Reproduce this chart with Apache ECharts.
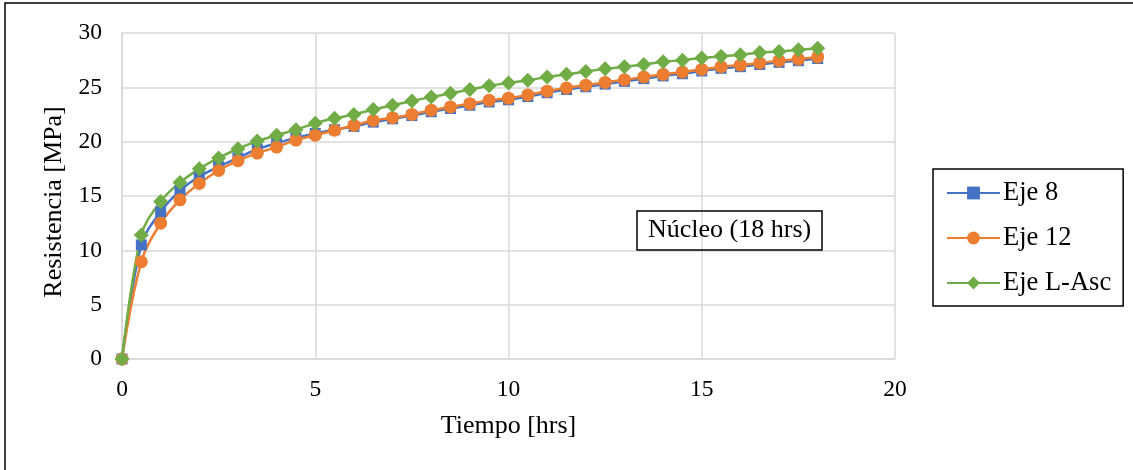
<!DOCTYPE html>
<html>
<head>
<meta charset="utf-8">
<script src="https://cdn.jsdelivr.net/npm/echarts@6/dist/echarts.min.js"></script>
<style>
html,body{margin:0;padding:0;background:#fff;}
#c{width:1133px;height:470px;}
</style>
</head>
<body>
<div id="c"></div>
<script>
var tiempo = [0,0.5,1,1.5,2,2.5,3,3.5,4,4.5,5,5.5,6,6.5,7,7.5,8,8.5,9,9.5,10,10.5,11,11.5,12,12.5,13,13.5,14,14.5,15,15.5,16,16.5,17,17.5,18];
var eje8 = [0,10.5,13.55,15.5,16.8,17.7,18.5,19.3,19.85,20.35,20.75,21.1,21.4,21.8,22.1,22.4,22.75,23.05,23.35,23.65,23.85,24.15,24.5,24.8,25.05,25.3,25.55,25.8,26.05,26.25,26.5,26.75,26.9,27.1,27.3,27.45,27.65];
var eje12 = [0,8.95,12.5,14.65,16.15,17.35,18.25,18.95,19.5,20.15,20.6,21.05,21.5,21.95,22.2,22.5,22.9,23.2,23.5,23.8,24.0,24.3,24.65,24.95,25.2,25.45,25.7,25.95,26.2,26.4,26.65,26.9,27.05,27.25,27.45,27.6,27.8];
var ejeLAsc = [0,11.4,14.5,16.25,17.5,18.5,19.35,20.05,20.6,21.1,21.7,22.15,22.5,22.95,23.35,23.75,24.1,24.45,24.8,25.15,25.4,25.65,25.95,26.2,26.45,26.7,26.9,27.1,27.35,27.5,27.7,27.85,28.0,28.2,28.3,28.45,28.6];
var seriesNames = ['Eje 8','Eje 12','Eje L-Asc'];
var annotation = 'Núcleo (18 hrs)';
var xName = 'Tiempo [hrs]';
var yName = 'Resistencia [MPa]';

function pairs(ys){ return tiempo.map(function(t,i){ return [t, ys[i]]; }); }

var FONT = '"Liberation Serif","Times New Roman",serif';
var chart = echarts.init(document.getElementById('c'), null, {renderer:'canvas'});
var gridColor = '#d9d9d9';
function mk(name, data, color, symbol, size){
  return {
    name: name, type: 'line', data: pairs(data), smooth: 0.35,
    symbol: symbol, symbolSize: size, showSymbol: true,
    lineStyle: {color: color, width: 2.5},
    itemStyle: {color: color, borderWidth: 0},
    emphasis: {disabled: true},
    animation: false
  };
}
chart.setOption({
  animation: false,
  backgroundColor: '#fff',
  textStyle: {fontFamily: FONT},
  grid: {left: 122, top: 33, right: 238, bottom: 111, containLabel: false},
  xAxis: {
    type: 'value', min: 0, max: 20, interval: 5,
    name: xName, nameLocation: 'middle', nameGap: 54,
    nameTextStyle: {fontFamily: FONT, fontSize: 26, color: '#000'},
    axisLine: {show: true, lineStyle: {color: gridColor, width: 1.5}},
    axisTick: {show: false},
    axisLabel: {fontFamily: FONT, fontSize: 23.5, color: '#000', margin: 19},
    splitLine: {show: true, lineStyle: {color: gridColor, width: 1.5}}
  },
  yAxis: {
    type: 'value', min: 0, max: 30, interval: 5,
    name: yName, nameLocation: 'middle', nameGap: 50, nameRotate: 90,
    nameTextStyle: {fontFamily: FONT, fontSize: 26, color: '#000', padding: [0, 12, 0, 0]},
    axisLine: {show: true, lineStyle: {color: gridColor, width: 1.5}},
    axisTick: {show: false},
    axisLabel: {fontFamily: FONT, fontSize: 23.5, color: '#000', margin: 20},
    splitLine: {show: true, lineStyle: {color: gridColor, width: 1.5}}
  },
  legend: {
    orient: 'vertical', left: 933, top: 169,
    data: seriesNames,
    itemWidth: 53, itemHeight: 16, itemGap: 15,
    padding: [9, 12, 8, 13],
    borderColor: '#000', borderWidth: 1.5,
    textStyle: {fontFamily: FONT, fontSize: 26.5, color: '#000', lineHeight: 30, padding: [0,0,0,-2]}
  },
  title: {
    text: annotation, left: 637, top: 211,
    padding: [5, 11, 5, 11],
    borderColor: '#000', borderWidth: 1.5,
    textStyle: {fontFamily: FONT, fontSize: 26, fontWeight: 'normal', color: '#000', lineHeight: 29}
  },
  graphic: [{
    type: 'rect', silent: true, z: -1,
    shape: {x: 5, y: 3, width: 1300, height: 700},
    style: {fill: 'none', stroke: '#000', lineWidth: 1.5}
  }],
  series: [
    mk(seriesNames[0], eje8, '#4472C4', 'rect', 11),
    mk(seriesNames[1], eje12, '#ED7D31', 'circle', 13),
    mk(seriesNames[2], ejeLAsc, '#70AD47', 'diamond', 15)
  ]
});
</script>
</body>
</html>
